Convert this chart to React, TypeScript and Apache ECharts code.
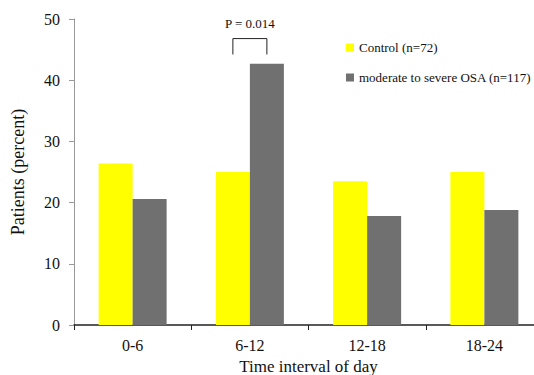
import React, { useEffect, useRef } from "react";
import * as echarts from "echarts";

const categories = ["0-6", "6-12", "12-18", "18-24"];
const controlValues = [26.4, 25.0, 23.5, 25.0];
const osaValues = [20.6, 42.7, 17.8, 18.8];
const seriesNames = ["Control (n=72)", "moderate to severe OSA (n=117)"];
const pLabel = "P = 0.014";
const pCategory = "6-12";
const bracketTop = 46.8;
const bracketBottom = 44.2;

const FONT = "Times New Roman, Liberation Serif, DejaVu Serif, serif";
const BAR_W = 34;

export default function App() {
  const ref = useRef<HTMLDivElement>(null);
  useEffect(() => {
    if (!ref.current) return;
    const chart = echarts.init(ref.current, null, { renderer: "svg" });
    chart.setOption({
      animation: false,
      backgroundColor: "#ffffff",
      textStyle: { fontFamily: FONT },
      grid: {
        left: 74,
        top: 19,
        width: 469,
        height: 306,
        containLabel: false,
        outerBoundsMode: "none",
      },
      legend: {
        orient: "vertical",
        left: 341,
        top: 36,
        itemWidth: 8,
        itemHeight: 8,
        itemGap: 17,
        icon: "rect",
        textStyle: { fontFamily: FONT, fontSize: 13, color: "#111" },
        data: seriesNames,
      },
      xAxis: {
        type: "category",
        data: categories,
        name: "Time interval of day",
        nameLocation: "middle",
        nameGap: 30,
        nameTextStyle: { fontFamily: FONT, fontSize: 17, color: "#111" },
        axisLine: { lineStyle: { color: "#222", width: 1.5 } },
        axisTick: { show: true, length: 5, lineStyle: { color: "#222" } },
        axisLabel: { fontFamily: FONT, fontSize: 16, color: "#111", margin: 12 },
      },
      yAxis: {
        type: "value",
        min: 0,
        max: 50,
        interval: 10,
        name: "Patients (percent)",
        nameLocation: "middle",
        nameGap: 47,
        nameTextStyle: { fontFamily: FONT, fontSize: 18, color: "#111" },
        axisLine: { show: true, lineStyle: { color: "#999" } },
        axisTick: { show: true, length: 5, lineStyle: { color: "#999" } },
        axisLabel: { fontFamily: FONT, fontSize: 16, color: "#111", margin: 14 },
        splitLine: { show: false },
      },
      series: [
        {
          name: seriesNames[0],
          type: "bar",
          data: controlValues,
          barWidth: BAR_W,
          barGap: "0%",
          itemStyle: { color: "#ffff00" },
        },
        {
          name: seriesNames[1],
          type: "bar",
          data: osaValues,
          barWidth: BAR_W,
          barGap: "0%",
          itemStyle: { color: "#707070" },
        },
      ],
    });
    const cx = chart.convertToPixel({ xAxisIndex: 0 }, pCategory) as number;
    const yTop = chart.convertToPixel({ yAxisIndex: 0 }, bracketTop) as number;
    const yBot = chart.convertToPixel({ yAxisIndex: 0 }, bracketBottom) as number;
    const xl = cx - BAR_W / 2;
    const xr = cx + BAR_W / 2;
    chart.setOption({
      graphic: [
        {
          type: "polyline",
          shape: { points: [[xl, yBot], [xl, yTop], [xr, yTop], [xr, yBot]] },
          style: { stroke: "#222", lineWidth: 1, fill: null },
        },
        {
          type: "text",
          x: cx,
          y: yTop - 15,
          style: {
            text: pLabel,
            fontFamily: FONT,
            fontSize: 13,
            fill: "#111",
            align: "center",
            verticalAlign: "middle",
          },
        },
      ],
    });
    return () => chart.dispose();
  }, []);
  return <div ref={ref} style={{ width: 534, height: 375, position: "absolute", left: 0, top: 0 }} />;
}
